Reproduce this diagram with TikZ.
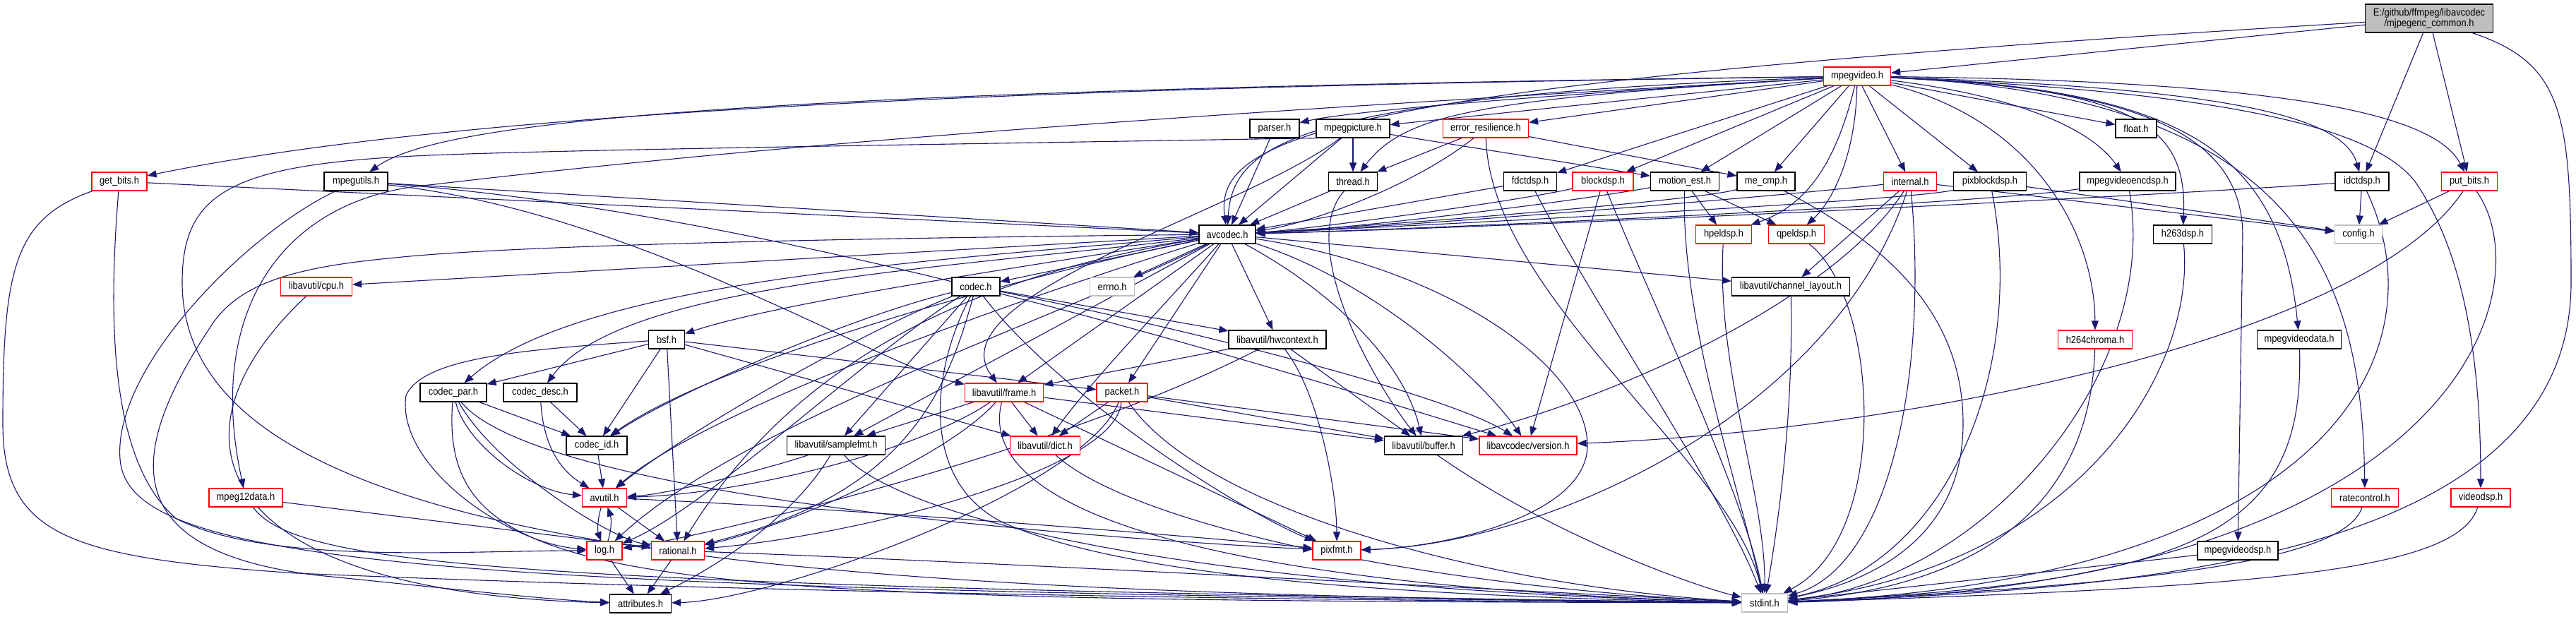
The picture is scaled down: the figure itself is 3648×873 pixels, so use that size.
\documentclass[tikz,border=0pt]{standalone}
\usepackage{fontspec}
\setmainfont{Liberation Sans}[FakeStretch=0.89]
\usetikzlibrary{arrows.meta}
\definecolor{edgeblue}{HTML}{191970}
\definecolor{truncred}{HTML}{FF0000}
\definecolor{sysgray}{HTML}{BFBFBF}
\definecolor{rootgray}{HTML}{BFBFBF}
\newcommand{\hdrfont}{\fontsize{14.5}{15}\selectfont}
\pgfdeclarelayer{paper}
\pgfdeclarelayer{edges}
\pgfsetlayers{paper,edges,main}
\tikzset{
  hdr/.style={draw=black, fill=white, line width=1.2pt, minimum height=26pt, inner xsep=2pt, inner ysep=0pt, font=\hdrfont},
  hdrtrunc/.style={hdr, draw=truncred},
  hdrsys/.style={hdr, draw=sysgray},
  hdrroot/.style={hdr, fill=rootgray, align=center, minimum height=40pt},
  incl/.style={draw=edgeblue, line width=1.1pt, -{Triangle[length=13pt,width=10pt]}},
}

\begin{document}
\begin{tikzpicture}[x=1pt,y=-1pt]
\useasboundingbox (0,0) rectangle (3648,873);
\begin{pgfonlayer}{paper}
\fill[white] (0,0) rectangle (3648,873);
\end{pgfonlayer}

% headers, rank by rank
\node[hdrroot, minimum width=181pt] (root) at (3440,26) {E:/github/ffmpeg/libavcodec\\/mjpegenc\_common.h};
\node[hdrtrunc, minimum width=95pt] (mv) at (2630,108) {mpegvideo.h};

\node[hdr, minimum width=70pt] (parser) at (1805,182) {parser.h};
\node[hdr, minimum width=104pt] (mpegpic) at (1916,182) {mpegpicture.h};
\node[hdrtrunc, minimum width=121pt] (errres) at (2104,182) {error\_resilience.h};
\node[hdr, minimum width=58pt] (floath) at (3025,182) {float.h};

\node[hdrtrunc, minimum width=78pt] (getbits) at (169,257) {get\_bits.h};
\node[hdr, minimum width=90pt] (mpegutils) at (504,257) {mpegutils.h};
\node[hdr, minimum width=69pt] (thread) at (1916,257) {thread.h};
\node[hdr, minimum width=75pt] (fdct) at (2167,257) {fdctdsp.h};
\node[hdrtrunc, minimum width=86pt] (block) at (2270,257) {blockdsp.h};
\node[hdr, minimum width=97pt] (motion) at (2386,257) {motion\_est.h};
\node[hdr, minimum width=82pt] (mecmp) at (2501,257) {me\_cmp.h};
\node[hdrtrunc, minimum width=75pt] (internal) at (2705,257) {internal.h};
\node[hdr, minimum width=103pt] (pixblock) at (2818,257) {pixblockdsp.h};
\node[hdr, minimum width=136pt] (encdsp) at (3013,257) {mpegvideoencdsp.h};
\node[hdr, minimum width=76pt] (idct) at (3345,257) {idctdsp.h};
\node[hdrtrunc, minimum width=79pt] (putbits) at (3497,257) {put\_bits.h};

\node[hdr, minimum width=80pt] (avcodec) at (1738,332) {avcodec.h};
\node[hdrtrunc, minimum width=79pt] (hpel) at (2441,332) {hpeldsp.h};
\node[hdrtrunc, minimum width=79pt] (qpel) at (2544,332) {qpeldsp.h};
\node[hdr, minimum width=83pt] (h263) at (3091,332) {h263dsp.h};
\node[hdrsys, minimum width=67pt] (config) at (3340,332) {config.h};

\node[hdrtrunc, minimum width=101pt] (cpu) at (448,406) {libavutil/cpu.h};
\node[hdr, minimum width=68pt] (codec) at (1382,406) {codec.h};
\node[hdrsys, minimum width=63pt] (errno) at (1575,406) {errno.h};
\node[hdr, minimum width=167pt] (chlayout) at (2536,406) {libavutil/channel\_layout.h};

\node[hdr, minimum width=51pt] (bsf) at (944,481) {bsf.h};
\node[hdr, minimum width=138pt] (hwctx) at (1809,481) {libavutil/hwcontext.h};
\node[hdrtrunc, minimum width=105pt] (h264c) at (2967,481) {h264chroma.h};
\node[hdr, minimum width=119pt] (vdata) at (3256,481) {mpegvideodata.h};

\node[hdr, minimum width=94pt] (codecpar) at (642,556) {codec\_par.h};
\node[hdr, minimum width=104pt] (codecdesc) at (765,556) {codec\_desc.h};
\node[hdrtrunc, minimum width=111pt] (frame) at (1422,556) {libavutil/frame.h};
\node[hdrtrunc, minimum width=72pt] (packet) at (1589,556) {packet.h};

\node[hdr, minimum width=86pt] (codecid) at (845,631) {codec\_id.h};
\node[hdr, minimum width=139pt] (samplefmt) at (1184,631) {libavutil/samplefmt.h};
\node[hdrtrunc, minimum width=99pt] (dict) at (1480,631) {libavutil/dict.h};
\node[hdr, minimum width=111pt] (buffer) at (2016,631) {libavutil/buffer.h};
\node[hdrtrunc, minimum width=138pt] (version) at (2164,631) {libavcodec/version.h};

\node[hdrtrunc, minimum width=104pt] (mpeg12) at (348,705) {mpeg12data.h};
\node[hdrtrunc, minimum width=63pt] (avutil) at (856,705) {avutil.h};
\node[hdrtrunc, minimum width=95pt] (ratectl) at (3349,705) {ratecontrol.h};
\node[hdrtrunc, minimum width=84pt] (videodsp) at (3513,705) {videodsp.h};

\node[hdrtrunc, minimum width=50pt] (log) at (856,780) {log.h};
\node[hdrtrunc, minimum width=75pt] (rational) at (960,780) {rational.h};
\node[hdrtrunc, minimum width=68pt] (pixfmt) at (1893,780) {pixfmt.h};
\node[hdr, minimum width=114pt] (vdsp) at (3169,780) {mpegvideodsp.h};

\node[hdr, minimum width=87pt] (attributes) at (907,855) {attributes.h};
\node[hdrsys, minimum width=65pt] (stdint) at (2499,854) {stdint.h};

\begin{pgfonlayer}{edges}
% mjpegenc_common.h
\draw[incl] (root) -- (mv);
\draw[incl] (root) .. controls (1900,118) and (1718,190) .. (avcodec);
\draw[incl] (root) -- (idct);
\draw[incl] (root) -- (putbits);
\draw[incl] (root) .. controls (3630,90) and (3641,160) .. (3641,400) .. controls (3641,800) and (3000,835) .. (stdint);

% mpegvideo.h
\draw[incl] (mv) .. controls (1600,122) and (700,148) .. (getbits);
\draw[incl] (mv) .. controls (1000,128) and (620,175) .. (mpegutils);
\draw[incl] (mv) .. controls (2100,140) and (1900,160) .. (parser);
\draw[incl] (mv) -- (mpegpic);
\draw[incl] (mv) -- (errres);
\draw[incl] (mv) .. controls (2100,140) and (1990,160) .. (thread);
\draw[incl] (mv) -- (fdct);
\draw[incl] (mv) -- (block);
\draw[incl] (mv) -- (motion);
\draw[incl] (mv) -- (mecmp);
\draw[incl] (mv) -- (internal);
\draw[incl] (mv) -- (pixblock);
\draw[incl] (mv) .. controls (2850,135) and (2960,180) .. (encdsp);
\draw[incl] (mv) -- (floath);
\draw[incl] (mv) .. controls (2600,230) and (2560,290) .. (hpel);
\draw[incl] (mv) .. controls (2628,220) and (2595,285) .. (qpel);
\draw[incl] (mv) .. controls (3030,125) and (3098,180) .. (h263);
\draw[incl] (mv) .. controls (3180,125) and (3320,170) .. (idct);
\draw[incl] (mv) .. controls (3260,115) and (3450,165) .. (putbits);
\draw[incl] (mv) .. controls (2880,170) and (2966,330) .. (h264c);
\draw[incl] (mv) .. controls (3100,125) and (3230,220) .. (vdata);
\draw[incl] (mv) .. controls (3050,125) and (3175,200) .. (3176,333) -- (vdsp);
\draw[incl] (mv) .. controls (3250,135) and (3345,380) .. (ratectl);
\draw[incl] (mv) .. controls (3150,130) and (3360,180) .. (3420,257) .. controls (3470,330) and (3513,450) .. (videodsp);
\draw[incl] (mv) .. controls (1900,150) and (1216,190) .. (608,262) .. controls (400,280) and (290,440) .. (mpeg12);
\draw[incl] (mv) .. controls (1850,136) and (1745,200) .. (avcodec);

% get_bits.h, mpegutils.h, parser.h
\draw[incl] (getbits) -- (avcodec);
\draw[incl] (getbits) .. controls (155,430) and (150,650) .. (250,735) .. controls (380,800) and (650,780) .. (log);
\draw[incl] (getbits) .. controls (20,310) and (4,380) .. (4,600) .. controls (4,760) and (100,790) .. (420,812) .. controls (1200,845) and (2100,852) .. (stdint);
\draw[incl] (mpegutils) -- (avcodec);
\draw[incl] (mpegutils) .. controls (900,300) and (1250,520) .. (frame);
\draw[incl] (mpegutils) .. controls (1100,300) and (1800,520) .. (version);
\draw[incl] (mpegutils) .. controls (350,330) and (160,520) .. (170,650) .. controls (180,800) and (600,835) .. (stdint);
\draw[incl] (parser) -- (avcodec);

% mpegpicture.h, error_resilience.h, thread.h
\draw[incl] (mpegpic) -- (thread);
\draw[incl] (mpegpic) -- (motion);
\draw[incl] (mpegpic) -- (avcodec);
\draw[incl] (mpegpic) .. controls (1760,300) and (1320,420) .. (frame);
\draw[incl] (mpegpic.south west) .. controls (1300,205) and (800,212) .. (608,220) .. controls (330,232) and (258,270) .. (258,400) .. controls (258,800) and (1200,840) .. (stdint);
\draw[incl] (errres) -- (thread);
\draw[incl] (errres) .. controls (2000,265) and (1850,318) .. (avcodec);
\draw[incl] (errres) -- (mecmp);
\draw[incl] (errres) .. controls (2110,420) and (2450,650) .. (stdint);
\draw[incl] (thread) -- (avcodec);
\draw[incl] (thread) .. controls (1840,340) and (1930,520) .. (buffer);

% dsp headers on the third rank
\draw[incl] (fdct) -- (avcodec);
\draw[incl] (fdct) .. controls (2250,420) and (2440,700) .. (stdint);
\draw[incl] (block) .. controls (2150,285) and (1850,325) .. (avcodec);
\draw[incl] (block) -- (version);
\draw[incl] (block) .. controls (2340,430) and (2470,700) .. (stdint);
\draw[incl] (motion) .. controls (2200,290) and (1900,325) .. (avcodec);
\draw[incl] (motion) -- (hpel);
\draw[incl] (motion) -- (qpel);
\draw[incl] (motion) .. controls (2380,450) and (2460,680) .. (stdint);
\draw[incl] (mecmp) .. controls (2400,285) and (1950,320) .. (avcodec);
\draw[incl] (mecmp) .. controls (2680,350) and (2780,450) .. (2780,600) .. controls (2780,780) and (2620,830) .. (stdint);
\draw[incl] (internal) .. controls (2500,280) and (2000,320) .. (avcodec);
\draw[incl] (internal) -- (chlayout);
\draw[incl] (internal) .. controls (2600,420) and (2300,560) .. (buffer);
\draw[incl] (internal) .. controls (2600,580) and (2200,770) .. (pixfmt);
\draw[incl] (internal) -- (config);
\draw[incl] (internal) .. controls (2730,520) and (2680,800) .. (stdint);
\draw[incl] (pixblock) .. controls (2700,285) and (2000,320) .. (avcodec);
\draw[incl] (pixblock) -- (config);
\draw[incl] (pixblock) .. controls (2870,520) and (2760,800) .. (stdint);
\draw[incl] (encdsp) .. controls (2800,290) and (2000,325) .. (avcodec);
\draw[incl] (encdsp) .. controls (3060,520) and (2820,820) .. (stdint);
\draw[incl] (idct) .. controls (3000,280) and (2200,320) .. (avcodec);
\draw[incl] (idct) -- (config);
\draw[incl] (idct) .. controls (3460,500) and (3300,820) .. (stdint);
\draw[incl] (putbits) -- (config);
\draw[incl] (putbits) .. controls (3350,480) and (2700,610) .. (version);
\draw[incl] (putbits) .. controls (3600,400) and (3500,830) .. (stdint);

% avcodec.h
\draw[incl] (avcodec) -- (errno);
\draw[incl] (avcodec) -- (codec);
\draw[incl] (avcodec) -- (cpu);
\draw[incl] (avcodec) -- (chlayout);
\draw[incl] (avcodec) -- (hwctx);
\draw[incl] (avcodec) .. controls (1400,385) and (1100,430) .. (bsf);
\draw[incl] (avcodec) .. controls (1300,370) and (820,400) .. (codecpar);
\draw[incl] (avcodec) .. controls (1350,380) and (880,400) .. (codecdesc);
\draw[incl] (avcodec) .. controls (1400,400) and (1000,520) .. (codecid);
\draw[incl] (avcodec) .. controls (1450,420) and (1000,580) .. (avutil);
\draw[incl] (avcodec) .. controls (1500,450) and (1050,600) .. (log);
\draw[incl] (avcodec) .. controls (1450,380) and (1150,470) .. (rational);
\draw[incl] (avcodec) .. controls (1100,338) and (700,350) .. (560,365) .. controls (420,378) and (340,400) .. (300,460) .. controls (180,640) and (160,780) .. (450,815) .. controls (650,835) and (780,850) .. (attributes);
\draw[incl] (avcodec) -- (samplefmt);
\draw[incl] (avcodec) -- (frame);
\draw[incl] (avcodec) .. controls (1660,420) and (1540,545) .. (dict);
\draw[incl] (avcodec) -- (packet);
\draw[incl] (avcodec) .. controls (1900,420) and (1990,520) .. (buffer);
\draw[incl] (avcodec) .. controls (1950,400) and (2100,540) .. (version);
\draw[incl] (avcodec) .. controls (2050,380) and (2250,520) .. (2248,633) .. controls (2245,730) and (2050,775) .. (pixfmt);

% codec.h, bsf.h, codec_par.h, codec_desc.h, codec_id.h
\draw[incl] (codec) .. controls (1320,520) and (1300,680) .. (1420,740) .. controls (1600,820) and (2000,845) .. (stdint);
\draw[incl] (codec) .. controls (1200,480) and (960,620) .. (avutil);
\draw[incl] (codec) -- (hwctx);
\draw[incl] (codec) .. controls (1230,500) and (1000,720) .. (log);
\draw[incl] (codec) .. controls (1500,560) and (1750,720) .. (pixfmt);
\draw[incl] (codec) .. controls (1340,560) and (1280,700) .. (rational);
\draw[incl] (codec) -- (samplefmt);
\draw[incl] (codec) .. controls (1200,450) and (950,560) .. (codecid);
\draw[incl] (codec) .. controls (1700,470) and (2050,560) .. (version);
\draw[incl] (bsf) -- (codecpar);
\draw[incl] (bsf) -- (codecid);
\draw[incl] (bsf) -- (rational);
\draw[incl] (bsf) -- (packet);
\draw[incl] (bsf) -- (dict);
\draw[incl] (bsf) .. controls (750,495) and (600,505) .. (575,560) .. controls (560,660) and (720,770) .. (log);
\draw[incl] (codecpar) -- (codecid);
\draw[incl] (codecpar) .. controls (660,630) and (750,695) .. (avutil);
\draw[incl] (codecpar) .. controls (700,660) and (860,760) .. (rational);
\draw[incl] (codecpar) .. controls (760,700) and (1500,760) .. (pixfmt);
\draw[incl] (codecpar) .. controls (620,840) and (900,850) .. (stdint);
\draw[incl] (codecdesc) -- (codecid);
\draw[incl] (codecdesc) .. controls (770,640) and (800,670) .. (avutil);
\draw[incl] (codecid) -- (avutil);

% libavutil
\draw[incl] (avutil) .. controls (846,735) and (846,752) .. (log);
\draw[incl] (log) .. controls (866,752) and (866,735) .. (avutil);
\draw[incl] (avutil) -- (rational);
\draw[incl] (avutil) .. controls (1200,720) and (1700,760) .. (pixfmt);
\draw[incl] (log) -- (attributes);
\draw[incl] (rational) -- (attributes);
\draw[incl] (rational) .. controls (1500,800) and (2200,840) .. (stdint);
\draw[incl] (samplefmt) .. controls (1100,660) and (950,700) .. (avutil);
\draw[incl] (samplefmt) .. controls (1120,740) and (1000,810) .. (attributes);
\draw[incl] (samplefmt) .. controls (1260,720) and (1600,830) .. (stdint);
\draw[incl] (frame) -- (samplefmt);
\draw[incl] (frame) -- (dict);
\draw[incl] (frame) -- (buffer);
\draw[incl] (frame) .. controls (1300,640) and (1050,700) .. (avutil);
\draw[incl] (frame) .. controls (1340,650) and (1100,750) .. (rational);
\draw[incl] (frame) -- (pixfmt);
\draw[incl] (frame) .. controls (1380,720) and (1700,830) .. (stdint);
\draw[incl] (packet) -- (dict);
\draw[incl] (packet) -- (buffer);
\draw[incl] (packet) -- (version);
\draw[incl] (packet) .. controls (1540,690) and (1100,850) .. (attributes);
\draw[incl] (packet) .. controls (1580,670) and (1200,760) .. (rational);
\draw[incl] (packet) .. controls (1700,720) and (2100,830) .. (stdint);
\draw[incl] (dict) .. controls (1600,740) and (2000,830) .. (stdint);
\draw[incl] (hwctx) -- (frame);
\draw[incl] (hwctx) -- (buffer);
\draw[incl] (hwctx) .. controls (1870,560) and (1893,700) .. (pixfmt);
\draw[incl] (hwctx) .. controls (1500,640) and (1000,760) .. (log);
\draw[incl] (buffer) .. controls (2200,760) and (2400,830) .. (stdint);
\draw[incl] (chlayout) .. controls (2540,600) and (2515,760) .. (stdint);
\draw[incl] (cpu) .. controls (220,620) and (300,840) .. (attributes);
\draw[incl] (mpeg12) -- (rational);
\draw[incl] (mpeg12) .. controls (420,800) and (700,830) .. (stdint);

% leaf dsp headers
\draw[incl] (hpel) .. controls (2430,520) and (2500,700) .. (stdint);
\draw[incl] (qpel) .. controls (2660,420) and (2680,760) .. (stdint);
\draw[incl] (h263) .. controls (3110,520) and (2950,800) .. (stdint);
\draw[incl] (h264c) .. controls (2960,720) and (2800,830) .. (stdint);
\draw[incl] (vdata) .. controls (3265,760) and (3100,825) .. (stdint);
\draw[incl] (ratectl) .. controls (3320,800) and (3000,830) .. (stdint);
\draw[incl] (videodsp) .. controls (3480,810) and (3200,832) .. (stdint);
\draw[incl] (vdsp) -- (stdint);
\end{pgfonlayer}
\end{tikzpicture}
\end{document}
